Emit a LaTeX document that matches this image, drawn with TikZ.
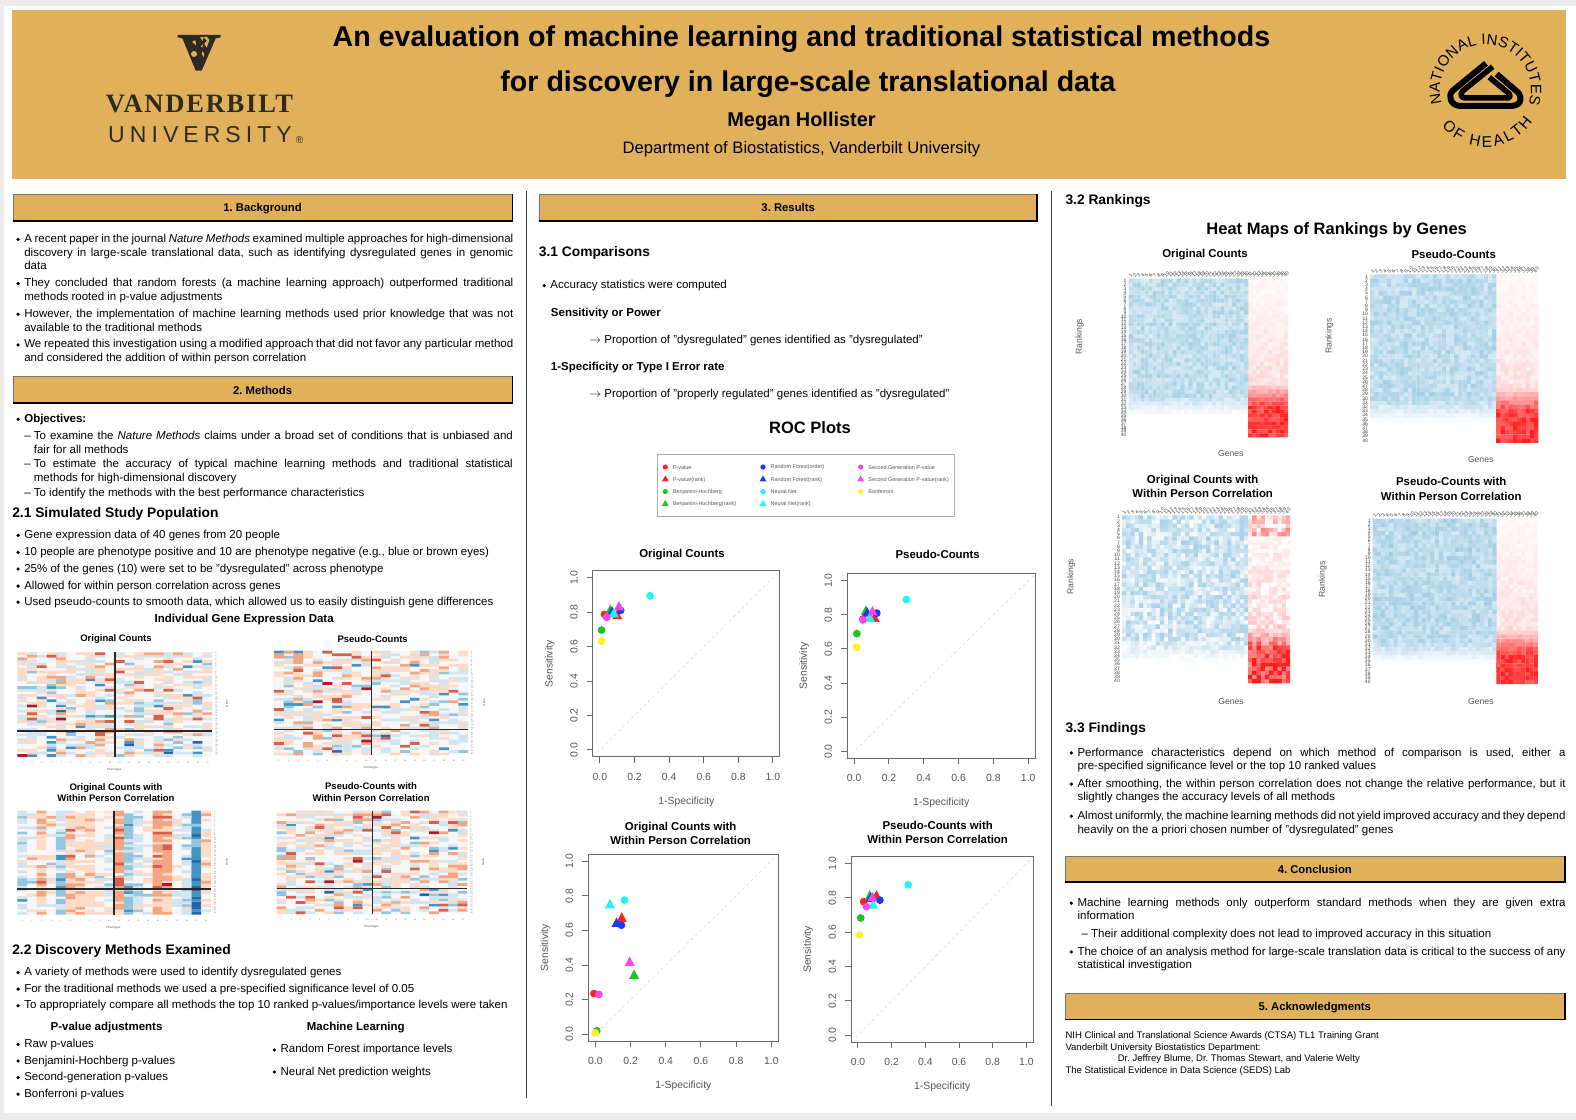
\documentclass[tikz,border=0pt]{standalone}
\usepackage{xcolor}
\usepackage{graphicx}
\usepackage{fontspec}
\setmainfont{Liberation Sans}
\newfontfamily\vandyserif[LetterSpace=6.8]{Liberation Serif}
\newfontfamily\vandysans[LetterSpace=22]{Liberation Sans}
\usepackage{tikz}
\usetikzlibrary{positioning,calc,decorations.text}

\definecolor{posterbg}{HTML}{EBEBEB}
\definecolor{gold}{HTML}{E0B15A}
\definecolor{vandyink}{HTML}{2E2A22}
\definecolor{axisgray}{HTML}{6A6A6A}
\definecolor{labgray}{HTML}{555555}
\definecolor{rocred}{HTML}{FF2222}
\definecolor{rocgreen}{HTML}{1FC41F}
\definecolor{rocblue}{HTML}{1A3CF0}
\definecolor{roccyan}{HTML}{22F5F5}
\definecolor{rocmag}{HTML}{FF44EE}
\definecolor{rocyellow}{HTML}{FFF02A}
\definecolor{hm1}{HTML}{2166AC}
\definecolor{hm2}{HTML}{4393C3}
\definecolor{hm3}{HTML}{92C5DE}
\definecolor{hm4}{HTML}{D1E5F0}
\definecolor{hm5}{HTML}{F7F7F7}
\definecolor{hm6}{HTML}{FDDBC7}
\definecolor{hm7}{HTML}{F4A582}
\definecolor{hm8}{HTML}{D6604D}
\definecolor{hm9}{HTML}{B2182B}
\definecolor{rankblue}{HTML}{2F8FC4}
\definecolor{rankred}{HTML}{FF1E1E}

% section bar: name, x0, y0, x1, y1, title
\newcommand{\secbar}[6]{
    \node[secbox,minimum width={(#4-#2)*1.005pt},minimum height={(#5-#3)*1.005pt}]
        (#1) at ({(#2+#4)/2},{(#3+#5)/2}) {\raisebox{-4.4pt}[0pt][0pt]{#6}};
    \draw[secshadow] (#1.north east) -- (#1.south east) -- (#1.south west);
}
% bullet item: name, x, y, width, text
\newcommand{\blt}[5]{
    \fill (#2,#3+1.2) circle (1.8pt);
    \node[bodytext,text width=#4pt] (#1) at (#2+6,#3-5.5) {\strut #5};
}
% dash item: name, x, y, width, text
\newcommand{\dsh}[5]{
    \node[bodytext] (#1d) at (#2,#3-5.5) {\strut --};
    \node[bodytext,text width=#4pt] (#1) at (#2+9.5,#3-5.5) {\strut #5};
}
% cells are collected per colour and painted as one path
\newcommand{\bktadd}[5]{%
    \expandafter\xdef\csname #1\endcsname{\csname #1\endcsname (#2,#3) rectangle (#4,#5)}%
}
\newcommand{\bktclear}[1]{%
    \foreach \lv in {0,...,40}{\expandafter\gdef\csname #1\lv\endcsname{}}%
}
% gene expression map: name, x0, y0, x1, y1, vline, hline, seed, noise (column bases in \hmbases)
\newcommand{\geneheat}[9]{
    \pgfmathsetseed{#8}
    \bktclear{bkth}
    \pgfmathsetmacro{\cw}{(#4-#2)/20}
    \pgfmathsetmacro{\ch}{(#5-#3)/40}
    \foreach \coli in {0,...,19}{
        \pgfmathsetmacro{\colbase}{{\hmbases}[\coli]}
        \pgfmathsetmacro{\xa}{#2+\coli*\cw}
        \pgfmathsetmacro{\xb}{\xa+\cw+0.15}
        \foreach \rowi in {0,...,39}{
            \pgfmathsetmacro{\hmu}{abs(2*rnd-1)}
            \pgfmathsetmacro{\hms}{(rnd<0.5?-1:1)*(2.4*pow(\hmu,10)+1.3*\hmu)}
            \pgfmathtruncatemacro{\hmidx}{max(1,min(9,5+round(\colbase+#9*\hms+0.1-((\rowi>=30&&\coli>=10)?0.45:0))))}
            \ifnum\hmidx=5\else
                \pgfmathsetmacro{\ya}{#3+\rowi*\ch}
                \pgfmathsetmacro{\yb}{\ya+\ch+0.15}
                \bktadd{bkth\hmidx}{\xa}{\ya}{\xb}{\yb}
            \fi
        }
    }
    \fill[hm5] (#2,#3) rectangle (#4,#5);
    \foreach \lv in {1,2,3,4,6,7,8,9}{
        \expandafter\let\expandafter\thisbkt\csname bkth\lv\endcsname
        \ifx\thisbkt\empty\else\fill[hm\lv] \thisbkt;\fi
    }
    \draw[line width=\hmrule,black!85] (#6,#3) -- (#6,#5);
    \draw[line width=\hmrule,black!85] (#2,#7) -- (#4,#7);
    \pgfmathsetmacro{\chpt}{\ch*1.005}
    \pgfmathsetmacro{\cwpt}{\cw*1.005}
    \node[tinylab,anchor=north west] (#1rows) at ({#4+3},#3) {\vbox{\baselineskip=\chpt pt \lineskiplimit=-100pt
        \foreach \rowi in {1,...,40}{\hbox{\rowi}}}};
    \node[tinylab,anchor=north west] (#1cols) at (#2,{#5+5}) {\hbox{%
        \foreach \coli in {1,...,20}{\hbox to \cwpt pt{\hss\coli\hss}}}};
}
% ranking map: name, x0, y0, x1, y1, seed, noise, blue level (fade row in \rankfade)
\newcommand{\rankheat}[8]{
    \pgfmathsetseed{#6}
    \bktclear{bktb}
    \bktclear{bktr}
    \pgfmathsetmacro{\cw}{(#4-#2)/40}
    \pgfmathsetmacro{\ch}{(#5-#3)/40}
    \foreach \rowi in {0,...,39}{
        \pgfmathsetmacro{\frow}{\rowi/40}
        \pgfmathsetmacro{\ya}{#3+\rowi*\ch}
        \pgfmathsetmacro{\yb}{\ya+\ch+0.15}
        \pgfmathsetmacro{\bluem}{#8*max(0,min(1,(\rankfade+0.06-\frow)/0.13))}
        \pgfmathsetmacro{\redm}{\frow<(\rankfade-0.14)?0.03+0.10*\frow/(\rankfade-0.14):(\frow<\rankfade?0.13+(\frow-\rankfade+0.14)/0.14*0.67:0.85)}
        \pgfmathsetmacro{\redtop}{(#7>0.5&&\rowi<5)?0.22:0}
        \pgfmathsetmacro{\redn}{\frow<(\rankfade-0.14)?1.3*#7:0.5*#7}
        \foreach \coli in {0,...,39}{
            \pgfmathsetmacro{\xa}{#2+\coli*\cw}
            \pgfmathsetmacro{\xb}{\xa+\cw+0.15}
            \ifnum\coli<30
                \pgfmathtruncatemacro{\hlv}{min(40,round(40*\bluem*max(0,1+#7*(2*rnd-1))))}
                \ifnum\hlv>0 \bktadd{bktb\hlv}{\xa}{\ya}{\xb}{\yb}\fi
            \else
                \pgfmathtruncatemacro{\hlv}{min(40,round(40*(\redm+\redtop)*max(0,1+\redn*(2*rnd-1))))}
                \ifnum\hlv>0 \bktadd{bktr\hlv}{\xa}{\ya}{\xb}{\yb}\fi
            \fi
        }
    }
    \foreach \lv in {1,...,40}{
        \pgfmathsetmacro{\pct}{\lv*2.5}
        \expandafter\let\expandafter\thisbkt\csname bktb\lv\endcsname
        \ifx\thisbkt\empty\else\fill[rankblue!\pct!white] \thisbkt;\fi
        \expandafter\let\expandafter\thisbkt\csname bktr\lv\endcsname
        \ifx\thisbkt\empty\else\fill[rankred!\pct!white] \thisbkt;\fi
    }
    \pgfmathsetmacro{\chpt}{\ch*1.005}
    \pgfmathsetmacro{\cwpt}{\cw*1.005}
    \node[ranklab,anchor=north east] (#1rows) at ({#2-2},#3) {\vbox{\baselineskip=\chpt pt \lineskiplimit=-100pt
        \foreach \rowi in {1,...,40}{\hbox to 9pt{\hfill\rowi}}}};
    \node[ranklab,anchor=south west] (#1cols) at (#2,{#3-1}) {\hbox{%
        \foreach \coli in {1,...,40}{\hbox to \cwpt pt{\hss\rotatebox{50}{\coli}\hss}}}};
}
% roc plot: name, x0, y0, x1, y1, markers
\newcommand{\rocc}[3]{\fill[#1] (#2,#3) circle (3.9pt);}
\newcommand{\roct}[3]{\fill[#1] (#2,#3) ++(-5pt,-3.5pt) -- ++(10pt,0) -- ++(-5pt,9.5pt) -- cycle;}
\newcommand{\rocplot}[6]{
    \pgfmathsetmacro{\ux}{(#4-#2)*1.005/1.08}
    \pgfmathsetmacro{\uy}{(#5-#3)*1.005/1.08}
    \begin{scope}[shift={(#2,#5)},x=\ux pt,y=\uy pt,shift={(.04,.04)}]
        \draw[dashed,gray!35] (-.04,-.04) -- (1.04,1.04);
        #6
        \draw[axisline] (-.04,-.04) rectangle (1.04,1.04);
        \foreach \tick [count=\i] in {0.0,0.2,0.4,0.6,0.8,1.0}{
            \draw[axisline] (\tick,-.04) -- ++(0,-6pt);
            \draw[axisline] (-.04,\tick) -- ++(-6pt,0);
            \path (\tick,-.04) ++(0,-20pt) node[ticklab] (#1x\i) {\tick};
            \path (-.04,\tick) ++(-19pt,0) node[ticklab,rotate=90] (#1y\i) {\tick};
        }
        \path (.5,-.04) ++(0,-45pt) node[ticklab] (#1xlab) {1-Specificity};
        \path (-.04,.5) ++(-43pt,0) node[ticklab,rotate=90] (#1ylab) {Sensitivity};
    \end{scope}
}
% legend entries: name, x, y, colour, text
\newcommand{\legc}[5]{
    \fill[#4] (#2,#3) circle (2.6pt);
    \node[legendlab] (#1) at (#2+7.5,#3+0.4) {#5};
}
\newcommand{\legt}[5]{
    \fill[#4] (#2,#3) ++(-3.4pt,-2pt) -- ++(6.8pt,0) -- ++(-3.4pt,6pt) -- cycle;
    \node[legendlab] (#1) at (#2+7.5,#3+0.4) {#5};
}

\begin{document}
\frenchspacing
\begin{tikzpicture}[
    x=1.005pt,y=-1.005pt,
    bodytext/.style={
        anchor=north west,
        inner sep=0pt,
        align=justify,
        font=\fontsize{11.5}{13.7}\selectfont
    },
    plaintext/.style={
        anchor=west,
        inner sep=0pt,
        font=\fontsize{11.5}{13.7}\selectfont
    },
    acktext/.style={
        anchor=west,
        inner sep=0pt,
        font=\fontsize{9.55}{11}\selectfont
    },
    secbox/.style={
        rectangle,
        draw=black!55,
        line width=0.8pt,
        fill=gold,
        inner sep=0pt,
        font=\fontsize{11.3}{13}\selectfont\bfseries
    },
    secshadow/.style={line width=1.7pt,black},
    subhead/.style={
        anchor=west,
        inner sep=0pt,
        font=\fontsize{13.8}{16}\selectfont\bfseries
    },
    smallhead/.style={
        inner sep=0pt,
        align=center,
        font=\fontsize{11.5}{13.7}\selectfont\bfseries
    },
    maptitle/.style={
        inner sep=0pt,
        align=center,
        font=\fontsize{9.5}{11.4}\selectfont\bfseries
    },
    bighead/.style={
        inner sep=0pt,
        font=\fontsize{16.5}{19}\selectfont\bfseries
    },
    rocname/.style={
        inner sep=0pt,
        align=center,
        font=\fontsize{11.4}{14.2}\selectfont\bfseries
    },
    ticklab/.style={inner sep=0pt,text=labgray,font=\fontsize{10.4}{12}\selectfont},
    axisline/.style={axisgray,line width=1pt},
    tinylab/.style={inner sep=0pt,text=black!60,font=\fontsize{2}{2}\selectfont},
    ranklab/.style={inner sep=0pt,text=black!75,font=\fontsize{5}{5}\selectfont},
    sidelab/.style={inner sep=0pt,text=labgray,font=\fontsize{8.6}{10}\selectfont},
    genelab/.style={inner sep=0pt,text=labgray,font=\fontsize{3}{4}\selectfont},
    legendlab/.style={anchor=west,inner sep=0pt,text=labgray,font=\fontsize{5.4}{6}\selectfont}
]
\useasboundingbox (0,0) rectangle (1568.16,1114.43);

% ------------------------------------------------------------
% Page and banner
% ------------------------------------------------------------

\fill[posterbg] (0,0) rectangle (1568.16,1114.43);
\fill[white] (4,5.5) rectangle (1568.16,1107);
\fill[gold] (12,10) rectangle (1558,178.5);

\node[inner sep=0pt,font=\fontsize{28.6}{32}\selectfont\bfseries] (title1) at (797.5,39)
    {An evaluation of machine learning and traditional statistical methods};
\node[inner sep=0pt,font=\fontsize{28.6}{32}\selectfont\bfseries] (title2) at (804,84)
    {for discovery in large-scale translational data};
\node[inner sep=0pt,font=\fontsize{19.9}{23}\selectfont\bfseries] (author) at (797.5,121) {Megan Hollister};
\node[inner sep=0pt,font=\fontsize{16.6}{20}\selectfont] (dept) at (797.5,148)
    {Department of Biostatistics, Vanderbilt University};

% ------------------------------------------------------------
% Vanderbilt logo
% ------------------------------------------------------------

\begin{scope}[shift={(89.6,19.9)},x=0.3333pt,y=-0.3333pt]
    \fill[vandyink] (263,45) -- (392,45) -- (392,52) -- (377,55) -- (335,152) -- (317,152)
        -- (277,55) -- (263,52) -- cycle;
    \fill[gold] (330,52) -- (350,50) -- (358,60) -- (340,112) -- (335,100) -- (343,85)
        -- (332,80) -- (342,68) -- cycle;
    \fill[vandyink] (340,52) -- (350,62) -- (342,72) -- (352,86) -- (344,104) -- (337,90) -- cycle;
    \fill[gold] (312,102) circle (3pt);
    \fill[gold] (306,66) -- (316,60) -- (318,76) -- cycle;
\end{scope}
\node[inner sep=0pt,text=vandyink,font=\vandyserif\fontsize{26.5}{30}\selectfont\bfseries] (vandy) at (198.5,103) {VANDERBILT};
\node[inner sep=0pt,text=vandyink,font=\vandysans\fontsize{23}{28}\selectfont] (univ) at (199,134) {UNIVERSITY};
\node[inner sep=0pt,text=vandyink,font=\fontsize{10}{10}\selectfont] (regd) at (298,139) {®};

% ------------------------------------------------------------
% NIH logo
% ------------------------------------------------------------

\begin{scope}[shift={(1403,19.9)},x=0.3333pt,y=-0.3333pt]
    \draw[line width=6pt,line join=round,line cap=butt] (228,130) -- (128,212)
        .. controls (112,228) and (122,256) .. (150,258) -- (305,258)
        .. controls (338,256) and (338,226) .. (318,212) -- (260,162);
    \draw[line width=5.5pt,line join=round] (248,140) -- (158,213)
        .. controls (148,225) and (155,234) .. (165,234) -- (295,234)
        .. controls (304,230) and (300,222) .. (290,215) -- (238,172);
\end{scope}
\begin{scope}[shift={(1478,89.5)},x=1pt,y=1pt]
    \path[decorate,decoration={text along path,text align={fit to path},
        text={|\fontsize{15}{15}\selectfont|NATIONAL INSTITUTES }}]
        (197:45.5) arc[start angle=197,end angle=-18,radius=45.5];
    \path[decorate,decoration={text along path,text align={fit to path},
        text={|\fontsize{15.5}{16}\selectfont|OF HEALTH}}]
        (220:57) arc[start angle=220,end angle=326,radius=57];
\end{scope}

% ------------------------------------------------------------
% Column rules
% ------------------------------------------------------------

\draw[line width=1.3pt,black!75] (524,190) -- (524,1093);
\draw[line width=1.3pt,black!75] (1046,190) -- (1046,1100);

% ------------------------------------------------------------
% 1. Background
% ------------------------------------------------------------

\secbar{bgbar}{13}{193.5}{509.5}{219.5}{1. Background}
\blt{bg1}{18}{237}{489}{A recent paper in the journal \textit{Nature Methods} examined multiple approaches for high-dimensional\linebreak discovery in large-scale translational data, such as identifying dysregulated genes in genomic\linebreak data}
\blt{bg2}{18}{281}{489}{They concluded that random forests (a machine learning approach) outperformed traditional\linebreak methods rooted in p-value adjustments}
\blt{bg3}{18}{311.5}{489}{However, the implementation of machine learning methods used prior knowledge that was not\linebreak available to the traditional methods}
\blt{bg4}{18}{342}{489}{We repeated this investigation using a modified approach that did not favor any particular method\linebreak and considered the addition of within person correlation}

% ------------------------------------------------------------
% 2. Methods
% ------------------------------------------------------------

\secbar{methbar}{13}{375}{509.5}{400.5}{2. Methods}
\blt{obj}{18}{416}{200}{\textbf{Objectives:}}
\dsh{obj1}{24}{433}{479}{To examine the \textit{Nature Methods} claims under a broad set of conditions that is unbiased and\linebreak fair for all methods}
\dsh{obj2}{24}{461}{479}{To estimate the accuracy of typical machine learning methods and traditional statistical\linebreak methods for high-dimensional discovery}
\dsh{obj3}{24}{490}{479}{To identify the methods with the best performance characteristics}

\node[subhead] (sim) at (12,511.5) {2.1 Simulated Study Population};
\blt{sim1}{18}{531.5}{489}{Gene expression data of 40 genes from 20 people}
\blt{sim2}{18}{548.5}{489}{10 people are phenotype positive and 10 are phenotype negative (e.g., blue or brown eyes)}
\blt{sim3}{18}{565}{489}{25\% of the genes (10) were set to be "dysregulated" across phenotype}
\blt{sim4}{18}{582}{489}{Allowed for within person correlation across genes}
\blt{sim5}{18}{598}{489}{Used pseudo-counts to smooth data, which allowed us to easily distinguish gene differences}

\node[smallhead] (indiv) at (243,616.5) {Individual Gene Expression Data};

% ------------------------------------------------------------
% Gene expression maps
% ------------------------------------------------------------

\node[maptitle] (gt1) at (115.4,635.5) {Original Counts};
\node[maptitle] (gt2) at (370.8,635.5) {Pseudo-Counts};
\node[maptitle] (gt3) at (115.4,788.5) {Original Counts with\\Within Person Correlation};
\node[maptitle] (gt4) at (369.2,788) {Pseudo-Counts with\\Within Person Correlation};

\def\hmrule{1.9pt}
\def\hmbases{0,0,0,0,0,0,0,0,0,0,0,0,0,0,0,0,0,0,0,0}
\geneheat{ga}{17.2}{649}{211}{753}{114.4}{727}{11}{1}
\def\hmrule{1.3pt}
\geneheat{gb}{272.6}{647.5}{465.7}{751.5}{369.8}{725.7}{23}{1}
\def\hmrule{1.9pt}
\def\hmbases{-0.8,0,1.1,0.1,-1.6,1.1,.6,.8,0,-.6,2,-1.8,-.8,0,2,1.8,0,-.9,-3,.7}
\geneheat{gc}{17.2}{806.7}{209.6}{910}{113.7}{884.3}{37}{0.55}
\def\hmrule{1.3pt}
\def\hmbases{0,0,0,0,0,0,0,0,0,0,0,0,0,0,0,0,0,0,0,0}
\geneheat{gd}{275.3}{806.7}{464.9}{909.5}{370.4}{884.3}{41}{1}

\node[genelab,rotate=90] (ga1) at (225.6,700) {Gene};
\node[genelab,rotate=90] (gb1) at (481.6,699) {Gene};
\node[genelab,rotate=90] (gc1) at (225.6,858) {Gene};
\node[genelab,rotate=90] (gd1) at (480.6,858) {Gene};
\node[genelab] (ga2) at (113.8,766) {Phenotype};
\node[genelab] (gb2) at (369,764) {Phenotype};
\node[genelab] (gc2) at (112.8,922.7) {Phenotype};
\node[genelab] (gd2) at (369.8,922) {Phenotype};

% ------------------------------------------------------------
% 2.2 Discovery methods
% ------------------------------------------------------------

\node[subhead] (disc) at (12,946.5) {2.2 Discovery Methods Examined};
\blt{disc1}{18}{966.5}{489}{A variety of methods were used to identify dysregulated genes}
\blt{disc2}{18}{983}{489}{For the traditional methods we used a pre-specified significance level of 0.05}
\blt{disc3}{18}{999.5}{489}{To appropriately compare all methods the top 10 ranked p-values/importance levels were taken}

\node[smallhead] (pval) at (106,1022) {P-value adjustments};
\node[smallhead] (mlhead) at (354,1022) {Machine Learning};
\blt{pv1}{18}{1038}{200}{Raw p-values}
\blt{pv2}{18}{1054.5}{200}{Benjamini-Hochberg p-values}
\blt{pv3}{18}{1071}{200}{Second-generation p-values}
\blt{pv4}{18}{1087.5}{200}{Bonferroni p-values}
\blt{ml1}{273}{1043.5}{220}{Random Forest importance levels}
\blt{ml2}{273}{1065.5}{220}{Neural Net prediction weights}

% ------------------------------------------------------------
% 3. Results
% ------------------------------------------------------------

\secbar{resbar}{537}{193.5}{1031.5}{219.5}{3. Results}
\node[subhead] (cmp) at (536,251.5) {3.1 Comparisons};
\blt{acc}{541.5}{283}{400}{Accuracy statistics were computed}
\node[plaintext,font=\fontsize{11.5}{13.7}\selectfont\bfseries] (sens) at (548,312) {Sensitivity or Power};
\node[plaintext] (sensd) at (586,339) {$\rightarrow$ Proportion of "dysregulated" genes identified as "dysregulated"};
\node[plaintext,font=\fontsize{11.5}{13.7}\selectfont\bfseries] (spec) at (548,366) {1-Specificity or Type I Error rate};
\node[plaintext] (specd) at (586,393) {$\rightarrow$ Proportion of "properly regulated" genes identified as "dysregulated"};

\node[bighead] (rochead) at (806,425.5) {ROC Plots};

% ------------------------------------------------------------
% Legend
% ------------------------------------------------------------

\node[draw=gray!65,line width=0.9pt,minimum width=297pt,minimum height=62pt,inner sep=0pt] (legend) at (801.5,483) {};
\legc{lega1}{662}{464.7}{rocred}{P-value}
\legt{lega2}{662}{477}{rocred}{P-value(rank)}
\legc{lega3}{662}{489.2}{rocgreen}{Benjamini-Hochberg}
\legt{lega4}{662}{501.5}{rocgreen}{Benjamini-Hochberg(rank)}
\legc{legb1}{759.2}{464.7}{rocblue}{Random Forest(order)}
\legt{legb2}{759.2}{477}{rocblue}{Random Forest(rank)}
\legc{legb3}{759.2}{489.2}{roccyan}{Neural Net}
\legt{legb4}{759.2}{501.5}{roccyan}{Neural Net(rank)}
\legc{legc1}{856.4}{464.7}{rocmag}{Second Generation P-value}
\legt{legc2}{856.4}{477}{rocmag}{Second Generation P-value(rank)}
\legc{legc3}{856.4}{489.2}{rocyellow}{Bonferroni}

% ------------------------------------------------------------
% ROC plots
% ------------------------------------------------------------

\node[rocname] (rt1) at (678.6,552) {Original Counts};
\node[rocname] (rt2) at (933,552) {Pseudo-Counts};
\node[rocname] (rt3) at (677.3,829) {Original Counts with\\Within Person Correlation};
\node[rocname] (rt4) at (933,828) {Pseudo-Counts with\\Within Person Correlation};

\rocplot{roca}{590}{568}{776}{753}{
    \rocc{rocred}{.027}{.787}\roct{rocred}{.10}{.78}
    \rocc{rocgreen}{.01}{.696}\roct{rocgreen}{.06}{.81}
    \rocc{rocblue}{.12}{.81}\roct{rocblue}{.07}{.80}
    \rocc{roccyan}{.29}{.895}\roct{roccyan}{.08}{.79}
    \rocc{rocmag}{.04}{.77}\roct{rocmag}{.11}{.83}
    \rocc{rocyellow}{.01}{.632}
}
\rocplot{rocb}{843}{571}{1030}{754.5}{
    \rocc{rocred}{.05}{.775}\roct{rocred}{.117}{.78}
    \rocc{rocgreen}{.015}{.69}\roct{rocgreen}{.067}{.82}
    \rocc{rocblue}{.13}{.81}\roct{rocblue}{.075}{.81}
    \rocc{roccyan}{.30}{.89}\roct{roccyan}{.09}{.78}
    \rocc{rocmag}{.05}{.77}\roct{rocmag}{.105}{.817}
    \rocc{rocyellow}{.015}{.61}
}
\rocplot{rocc}{585.4}{850}{774.5}{1036}{
    \rocc{rocred}{-.008}{.235}\roct{rocred}{.15}{.67}
    \rocc{rocgreen}{.008}{.02}\roct{rocgreen}{.22}{.34}
    \rocc{rocblue}{.148}{.63}\roct{rocblue}{.12}{.64}
    \rocc{roccyan}{.165}{.775}\roct{roccyan}{.083}{.748}
    \rocc{rocmag}{.02}{.23}\roct{rocmag}{.195}{.415}
    \rocc{rocyellow}{0}{.008}
}
\rocplot{rocd}{847}{852.4}{1028}{1037}{
    \rocc{rocred}{.034}{.778}\roct{rocred}{.11}{.81}
    \rocc{rocgreen}{.016}{.683}\roct{rocgreen}{.07}{.81}
    \rocc{rocblue}{.13}{.787}\roct{rocblue}{.075}{.797}
    \rocc{roccyan}{.298}{.876}\roct{roccyan}{.09}{.758}
    \rocc{rocmag}{.05}{.749}\roct{rocmag}{.085}{.80}
    \rocc{rocyellow}{.01}{.584}
}

% ------------------------------------------------------------
% 3.2 Rankings
% ------------------------------------------------------------

\node[subhead] (rnk) at (1060,199.5) {3.2 Rankings};
\node[bighead] (heathead) at (1330,229) {Heat Maps of Rankings by Genes};
\node[rocname] (ht1) at (1199,253) {Original Counts};
\node[rocname] (ht2) at (1446.5,253) {Pseudo-Counts};
\node[rocname] (ht3) at (1196.7,484) {Original Counts with\\Within Person Correlation};
\node[rocname] (ht4) at (1444,486.5) {Pseudo-Counts with\\Within Person Correlation};

\def\rankfade{0.79}
\rankheat{ra}{1123}{277.3}{1281.6}{435.1}{51}{0.42}{0.30}
\def\rankfade{0.80}
\rankheat{rb}{1363.2}{273}{1530.6}{440.5}{52}{0.4}{0.31}
\rankheat{rc}{1116.4}{512.7}{1283.6}{679.9}{53}{0.9}{0.22}
\rankheat{rd}{1365.9}{516.1}{1530}{680.6}{54}{0.38}{0.32}

\node[sidelab,rotate=90] (ry1) at (1074.3,335) {Rankings};
\node[sidelab,rotate=90] (ry2) at (1322.7,334.3) {Rankings};
\node[sidelab,rotate=90] (ry3) at (1065.7,573.8) {Rankings};
\node[sidelab,rotate=90] (ry4) at (1316.1,576.4) {Rankings};
\node[sidelab] (rx1) at (1224.6,451.7) {Genes};
\node[sidelab] (rx2) at (1473.3,457.7) {Genes};
\node[sidelab] (rx3) at (1224.9,698.2) {Genes};
\node[sidelab] (rx4) at (1473.5,698.2) {Genes};

% ------------------------------------------------------------
% 3.3 Findings
% ------------------------------------------------------------

\node[subhead] (find) at (1060,725.5) {3.3 Findings};
\blt{f1}{1066}{748}{488}{Performance characteristics depend on which method of comparison is used, either a\linebreak pre-specified significance level or the top 10 ranked values}
\blt{f2}{1066}{779}{488}{After smoothing, the within person correlation does not change the relative performance, but it\linebreak slightly changes the accuracy levels of all methods}
\blt{f3}{1066}{811}{488}{Almost uniformly, the machine learning methods did not yield improved accuracy and they depend\linebreak heavily on the a priori chosen number of "dysregulated" genes}

% ------------------------------------------------------------
% 4. Conclusion
% ------------------------------------------------------------

\secbar{conbar}{1060}{852}{1556.5}{877}{4. Conclusion}
\blt{c1}{1066}{897.5}{488}{Machine learning methods only outperform standard methods when they are given extra\linebreak information}
\dsh{c2}{1076}{929}{470}{Their additional complexity does not lead to improved accuracy in this situation}
\blt{c3}{1066}{946}{488}{The choice of an analysis method for large-scale translation data is critical to the success of any\linebreak statistical investigation}

% ------------------------------------------------------------
% 5. Acknowledgments
% ------------------------------------------------------------

\secbar{ackbar}{1060}{988}{1556.5}{1014}{5. Acknowledgments}
\node[acktext] (ack1) at (1060,1031) {NIH Clinical and Translational Science Awards (CTSA) TL1 Training Grant};
\node[acktext] (ack2) at (1060,1042.5) {Vanderbilt University Biostatistics Department:};
\node[acktext] (ack3) at (1112,1054) {Dr. Jeffrey Blume, Dr. Thomas Stewart, and Valerie Welty};
\node[acktext] (ack4) at (1060,1065.5) {The Statistical Evidence in Data Science (SEDS) Lab};

\end{tikzpicture}
\end{document}
